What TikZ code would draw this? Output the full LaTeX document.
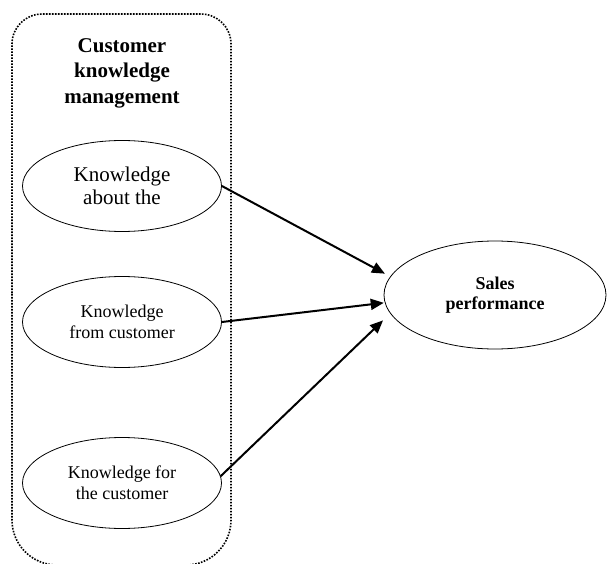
\documentclass[tikz,border=0pt]{standalone}
\usepackage{fontspec}
\setmainfont{Liberation Serif}
\usetikzlibrary{shapes.geometric,arrows.meta}
\tikzset{
  ckell/.style={ellipse,draw,line width=0.8pt,minimum width=199pt,minimum height=91pt,inner sep=0pt,align=center},
  ckarr/.style={-{Triangle[length=13pt,width=11pt]},line width=2pt}
}
\begin{document}
\begin{tikzpicture}[x=1pt,y=1pt]
			\useasboundingbox (0,0) rectangle (607,563);
			\draw[line width=1.6pt,dash pattern=on 1.6pt off 1.4pt] (12,270) -- (12,519) arc[start angle=180,end angle=90,radius=30] -- (201,549) arc[start angle=90,end angle=0,radius=30] -- (231,43) arc[start angle=0,end angle=-90,radius=45] -- (57,-2) arc[start angle=270,end angle=180,radius=45] -- cycle;
			\node[align=center,font=\fontsize{21}{25.5}\selectfont\bfseries] (ckm) at (122,490) {Customer\\knowledge\\management};
			\node[ckell,font=\fontsize{21}{23}\selectfont] (k1) at (122,377) {Knowledge\\about the};
			\node[ckell,font=\fontsize{18}{21}\selectfont] (k2) at (122,241) {Knowledge\\from customer};
			\node[ckell,font=\fontsize{18}{21}\selectfont] (k3) at (122,80) {Knowledge for\\the customer};
			\node[ckell,minimum width=222pt,minimum height=108pt,font=\fontsize{18}{20}\selectfont\bfseries] (sales) at (495,268) {Sales\\performance};
			\draw[ckarr,shorten >=6pt] (k1.east) -- (sales.170);
			\draw[ckarr,shorten >=1pt] (k2.east) -- (sales.184);
			\draw[ckarr,shorten >=10pt] (k3.4) -- (sales.190);
		\end{tikzpicture}
\end{document}
